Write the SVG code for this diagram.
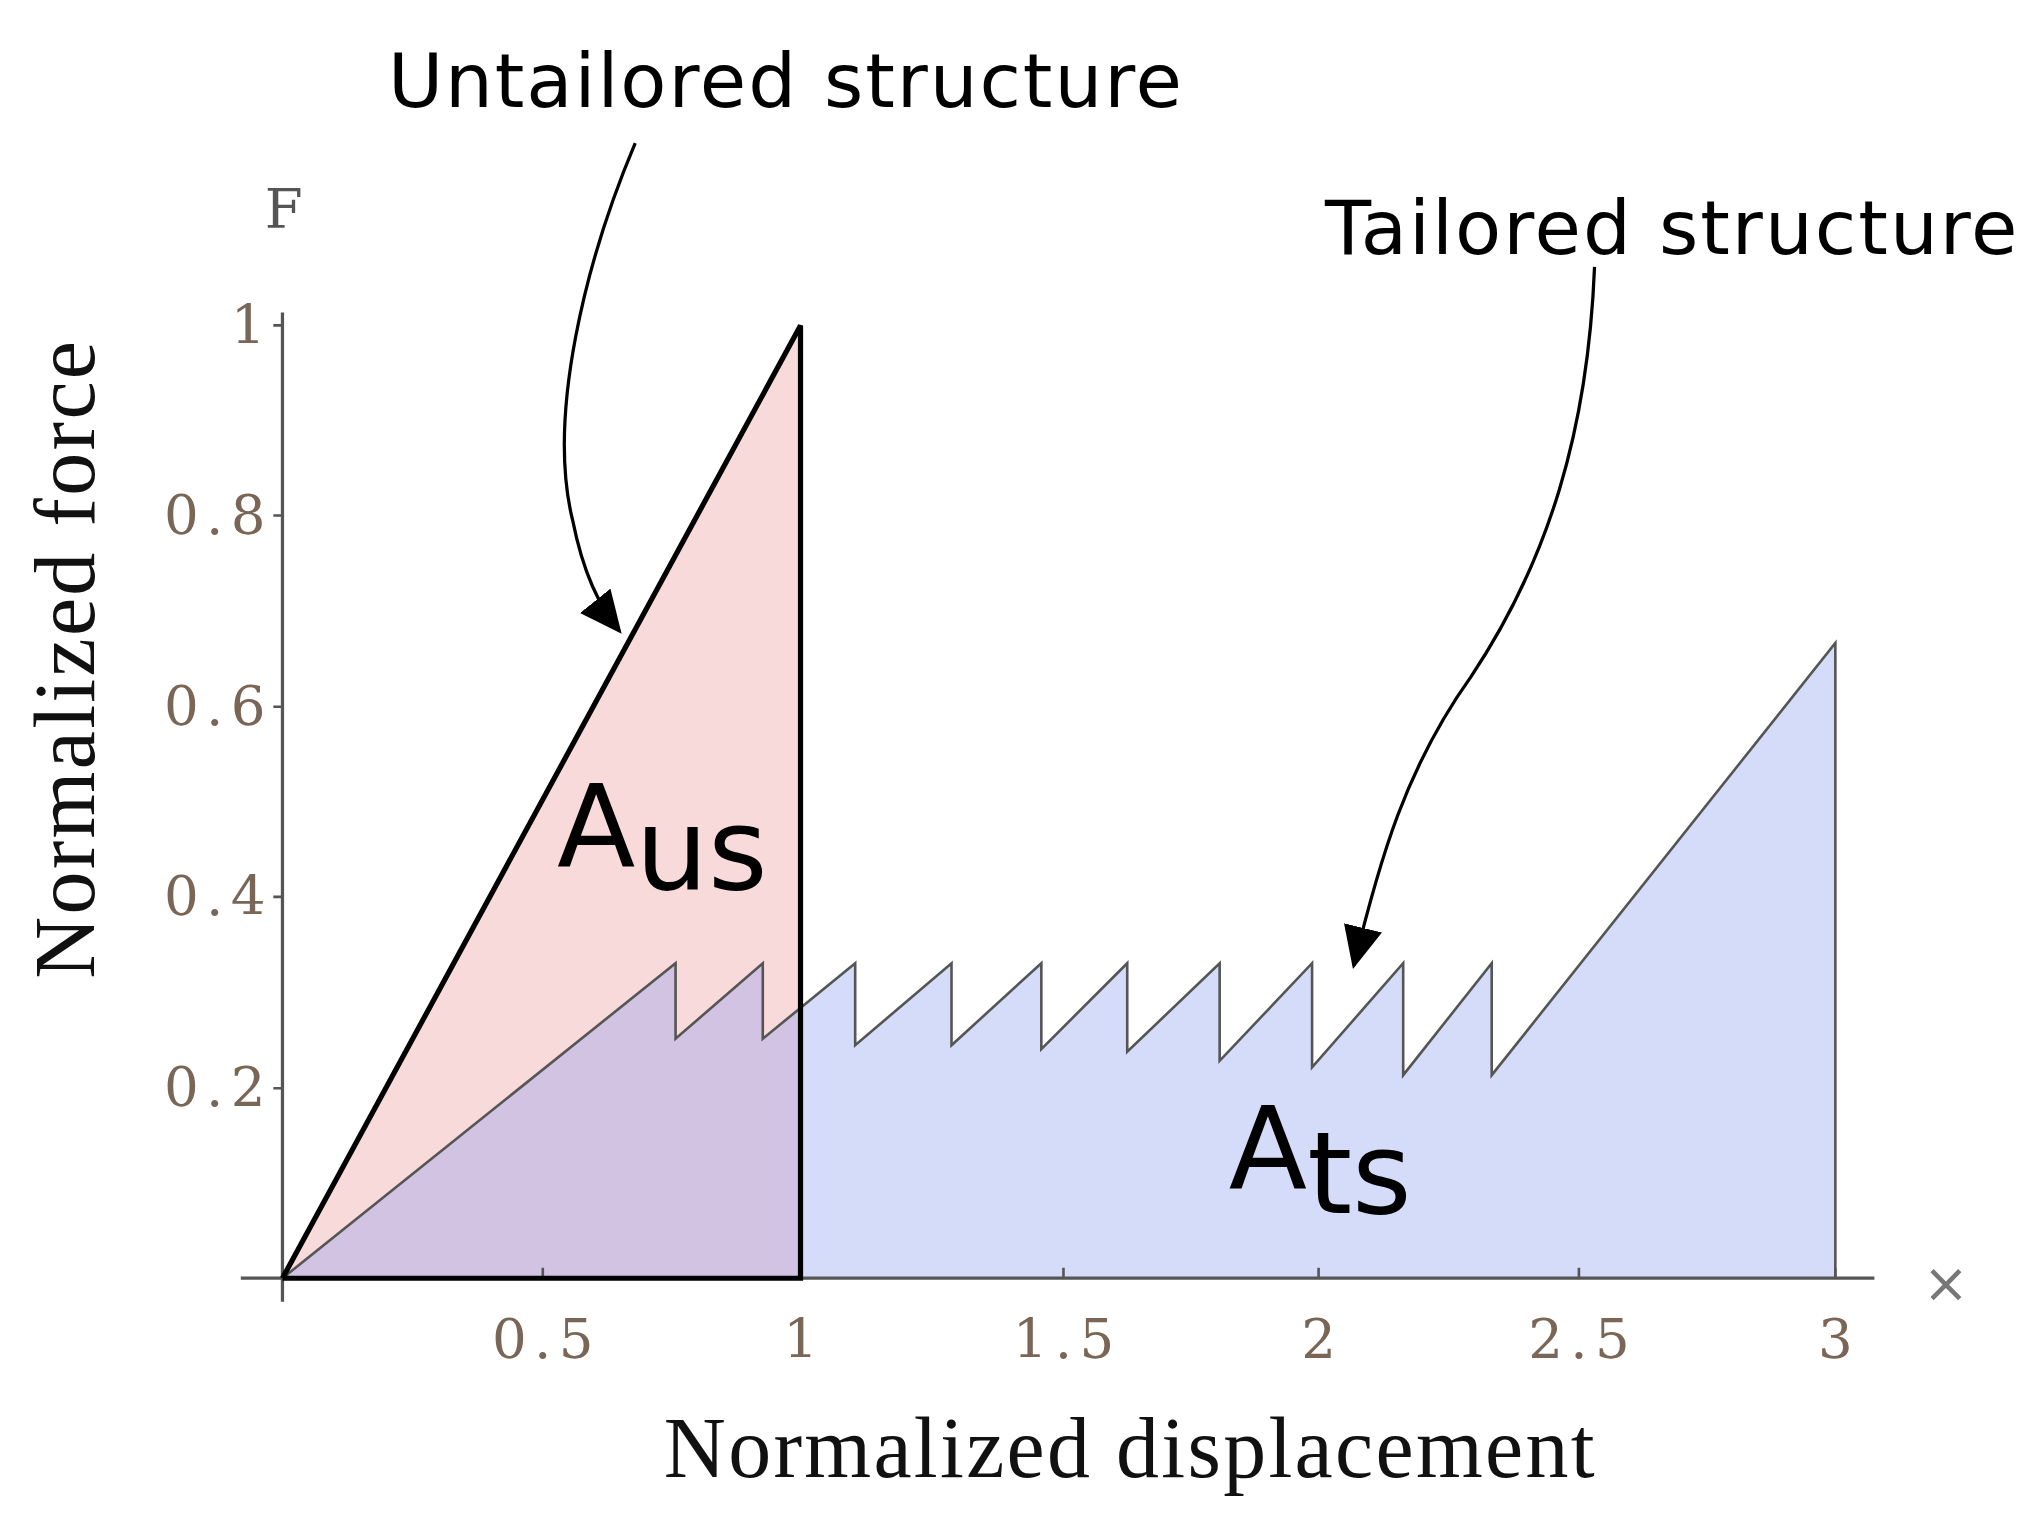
<svg xmlns="http://www.w3.org/2000/svg" width="2041" height="1534" viewBox="0 0 2041 1534">
<style>
.lab{font-family:"DejaVu Sans","Liberation Sans",sans-serif;fill:#000}
.tick{font-family:"DejaVu Serif","Liberation Serif",serif;fill:#7a6656;font-size:42px}
.title{font-family:"Liberation Serif",serif;font-size:66px;fill:#111}
.conn{fill:none;stroke:#000;stroke-width:2.5}
</style>
<defs>
<marker id="ah" markerWidth="14" markerHeight="12" refX="12" refY="6" orient="auto" markerUnits="strokeWidth"><path d="M0,0 L13,6 L0,12 Z" fill="#000"/></marker>
</defs>
<rect width="2041" height="1534" fill="#fff"/>
<g transform="scale(1.30166)">
<g id="untailored-area"><polygon points="217,982 615,250 615,982" fill="#f9dada"/></g>
<g id="tailored-area"><polygon points="217,982 519,740 519,798 586,740 586,798 657,740 657,803 731,740 731,803 800,740 800,806 866,740 866,808 937,740 937,815 1008,740 1008,820 1078,740 1078,826 1146,740 1146,826 1410,494 1410,982" fill="#d5dcfa"/></g>
<g id="overlap"><polygon points="217,982 519,740 519,798 586,740 586,798 615,774 615,982" fill="#d2c3e3"/></g>
<g id="axes" stroke="#555" stroke-width="2.5" fill="none">
<line x1="185" y1="982" x2="1440" y2="982"/>
<line x1="217" y1="240" x2="217" y2="1000"/>
<path d="M217,250h-7M217,396h-7M217,543h-7M217,689h-7M217,836h-7M417,982v-8M615,982v-8M817,982v-8M1013,982v-8M1213,982v-8M1410,982v-8" stroke-width="2"/>
</g>
<g id="tailored-curve"><polyline points="217,982 519,740 519,798 586,740 586,798 657,740 657,803 731,740 731,803 800,740 800,806 866,740 866,808 937,740 937,815 1008,740 1008,820 1078,740 1078,826 1146,740 1146,826 1410,494 1410,982" fill="none" stroke="#555" stroke-width="2"/></g>
<g id="untailored-curve"><polyline points="217,982 615,250 615,982 217,982" fill="none" stroke="#000" stroke-width="4"/></g>
<g class="tick">
<text x="204" y="264" text-anchor="end">1</text>
<text x="204" y="410" text-anchor="end" textLength="78">0.8</text>
<text x="204" y="557" text-anchor="end" textLength="78">0.6</text>
<text x="204" y="703" text-anchor="end" textLength="78">0.4</text>
<text x="204" y="850" text-anchor="end" textLength="78">0.2</text>
<text x="378" y="1043" textLength="78">0.5</text>
<text x="615" y="1043" text-anchor="middle">1</text>
<text x="778" y="1043" textLength="78">1.5</text>
<text x="1013" y="1043" text-anchor="middle">2</text>
<text x="1174" y="1043" textLength="78">2.5</text>
<text x="1410" y="1043" text-anchor="middle">3</text>
<text x="218" y="175" text-anchor="middle" fill="#555">F</text>
<text x="1495" y="1000" text-anchor="middle" fill="#777" font-family="DejaVu Sans,sans-serif">×</text>
</g>
<text class="title" x="510" y="1135" textLength="715">Normalized displacement</text>
<text class="title" transform="translate(72,752) rotate(-90)" textLength="490">Normalized force</text>
<g id="label-aus"><text class="lab" x="428" y="665" font-size="88">A<tspan dy="18">us</tspan></text></g>
<g id="label-ats"><text class="lab" x="944" y="913" font-size="88">A<tspan dy="19">ts</tspan></text></g>
<g id="label-untailored"><text class="lab" x="298" y="82" font-size="58" textLength="610">Untailored structure</text></g>
<g id="label-tailored"><text class="lab" x="1018" y="195" font-size="58" textLength="532">Tailored structure</text></g>
<g id="connectors">
<path class="conn" d="M488,110 C450,200 420,320 440,400 C448,440 460,465 476,485" marker-end="url(#ah)"/>
<path class="conn" d="M1225,205 C1220,330 1190,430 1130,520 C1080,590 1060,660 1040,742" marker-end="url(#ah)"/>
</g>
</g>
</svg>
